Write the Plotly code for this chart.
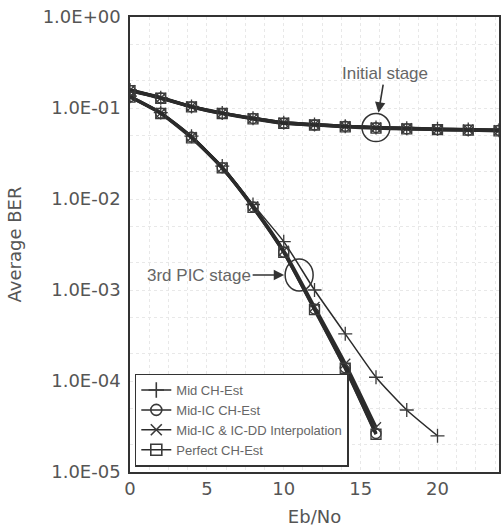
import numpy as np
import plotly.graph_objects as go

# ---------------- data ----------------
series_names = ["Mid CH-Est", "Mid-IC CH-Est", "Mid-IC & IC-DD Interpolation", "Perfect CH-Est"]

# Initial stage (all four overlap)
ebno_init = [0, 2, 4, 6, 8, 10, 12, 14, 16, 18, 20, 22, 24]
ber_init_mid = [0.158, 0.130, 0.104, 0.088, 0.077, 0.069, 0.066, 0.063, 0.061, 0.060, 0.059, 0.058, 0.057]
ber_init_midic = [0.156, 0.129, 0.103, 0.087, 0.077, 0.068, 0.065, 0.063, 0.061, 0.059, 0.058, 0.057, 0.057]
ber_init_ddi = [0.157, 0.129, 0.104, 0.088, 0.077, 0.069, 0.066, 0.063, 0.061, 0.060, 0.058, 0.058, 0.057]
ber_init_perf = [0.155, 0.128, 0.103, 0.087, 0.076, 0.068, 0.065, 0.062, 0.060, 0.059, 0.058, 0.057, 0.056]

# 3rd PIC stage
ebno_mid = [0, 2, 4, 6, 8, 10, 12, 14, 16, 18, 20]
ber_pic_mid = [0.135, 0.089, 0.049, 0.023, 0.0087, 0.0034, 0.00100, 0.00033, 0.000110, 0.000048, 0.000025]

ebno_pic = [0, 2, 4, 6, 8, 10, 12, 14, 16]
ber_pic_midic = [0.133, 0.088, 0.048, 0.022, 0.0082, 0.0026, 0.00062, 0.000140, 0.0000265]
ber_pic_ddi = [0.134, 0.088, 0.048, 0.022, 0.0083, 0.0027, 0.00065, 0.000155, 0.000031]
ber_pic_perf = [0.132, 0.087, 0.047, 0.022, 0.0081, 0.0026, 0.00061, 0.000138, 0.0000260]

x_tickvals = [0, 5, 10, 15, 20]
y_tickvals = [1e0, 1e-1, 1e-2, 1e-3, 1e-4, 1e-5]
y_ticktext = ["1.0E+00", "1.0E-01", "1.0E-02", "1.0E-03", "1.0E-04", "1.0E-05"]

# annotation anchors (data coordinates)
init_mark = (16, 0.061)
pic_mark = (11, 0.00146)

# ---------------- style ----------------
LINE = "#2b2b2b"
MK = "#3a3a3a"
symbols = ["cross-thin-open", "circle-open", "x-thin-open", "square-open"]
FONT = "Liberation Sans, Arial, sans-serif"
TFONT = "DejaVu Sans, sans-serif"

X_RANGE = [0, 24]
Y_RANGE = [-5, 0]
PLOT_W = 369.0   # plot-area pixels
PLOT_H = 455.0

fig = go.Figure()

init_sets = [ber_init_mid, ber_init_midic, ber_init_ddi, ber_init_perf]
pic_sets = [(ebno_mid, ber_pic_mid), (ebno_pic, ber_pic_midic), (ebno_pic, ber_pic_ddi), (ebno_pic, ber_pic_perf)]

for i, name in enumerate(series_names):
    mk = dict(symbol=symbols[i], size=10, color=MK, line=dict(color=MK, width=1.3))
    fig.add_trace(go.Scatter(
        x=ebno_init, y=init_sets[i], mode="lines+markers", name=name,
        legendgroup=name, showlegend=False,
        line=dict(color=LINE, width=3.2, shape="spline", smoothing=0.6),
        marker=mk))
    xs, ys = pic_sets[i]
    fig.add_trace(go.Scatter(
        x=xs, y=ys, mode="lines+markers", name=name,
        legendgroup=name, showlegend=False,
        line=dict(color=LINE, width=1.5 if i == 0 else 3.2, shape="spline", smoothing=0.6),
        marker=mk))

# legend entries (thin lines as in the reference legend)
for i, name in enumerate(series_names):
    fig.add_trace(go.Scatter(
        x=[None], y=[None], mode="lines+markers", name=name, legendgroup=name,
        line=dict(color=LINE, width=1.5),
        marker=dict(symbol=symbols[i], size=11, color=MK, line=dict(color=MK, width=1.6))))

# circles around the marked points (radius given in pixels, converted to data units)
px_x = (X_RANGE[1] - X_RANGE[0]) / PLOT_W
px_y = (Y_RANGE[1] - Y_RANGE[0]) / PLOT_H
for (cx, cy), (rx, ry) in [(init_mark, (14, 14)), (pic_mark, (14, 16))]:
    fig.add_shape(type="circle", xref="x", yref="y",
                  x0=cx - rx * px_x, x1=cx + rx * px_x,
                  y0=cy * 10 ** (-ry * px_y), y1=cy * 10 ** (ry * px_y),
                  line=dict(color="#333333", width=1.5))

fig.add_annotation(x=init_mark[0], y=np.log10(init_mark[1]), xref="x", yref="y",
                   text="Initial stage", showarrow=True, ax=9, ay=-54,
                   arrowhead=2, arrowsize=1.3, arrowwidth=1.6, arrowcolor="#333333",
                   standoff=15, font=dict(family=FONT, size=17, color="#666666"))
fig.add_annotation(x=pic_mark[0], y=np.log10(pic_mark[1]), xref="x", yref="y",
                   text="3rd PIC stage", showarrow=True, ax=-100, ay=0,
                   arrowhead=2, arrowsize=1.3, arrowwidth=1.6, arrowcolor="#333333",
                   standoff=15, font=dict(family=FONT, size=17, color="#666666"))

grid = "#e8e8e8"
fig.update_xaxes(range=X_RANGE, tickvals=x_tickvals, showline=True, mirror=True,
                 linecolor="#333333", linewidth=1.5, ticks="",
                 showgrid=True, gridcolor=grid, griddash="dot", gridwidth=1,
                 minor=dict(dtick=1.25, showgrid=True, gridcolor=grid, griddash="dot", gridwidth=1),
                 zeroline=False, ticklabeloverflow="allow",
                 tickfont=dict(family=TFONT, size=18, color="#555555"),
                 title=dict(text="Eb/No", font=dict(family=TFONT, size=18, color="#555555"), standoff=12))
fig.update_yaxes(type="log", range=Y_RANGE, tickvals=y_tickvals, ticktext=y_ticktext,
                 showline=True, mirror=True, linecolor="#333333", linewidth=1.5,
                 ticks="", ticklabelstandoff=4, ticklabeloverflow="allow",
                 showgrid=True, gridcolor=grid, griddash="dot", gridwidth=1,
                 minor=dict(showgrid=True, gridcolor=grid, griddash="dot", gridwidth=1),
                 tickfont=dict(family=TFONT, size=18, color="#555555"),
                 title=dict(text="Average BER", font=dict(family=TFONT, size=18, color="#555555"), standoff=16))

fig.update_layout(
    width=501, height=529,
    margin=dict(l=130, r=2, t=17, b=57, autoexpand=False),
    plot_bgcolor="white", paper_bgcolor="white",
    legend=dict(x=0.013, y=0.012, xanchor="left", yanchor="bottom",
                bgcolor="white", bordercolor="#333333", borderwidth=1.5,
                font=dict(family=FONT, size=13, color="#666666"),
                itemwidth=30, tracegroupgap=0),
    font=dict(family=FONT),
)

# remove the default page margin so the figure sits at the window's top-left corner
fig.write_html("out.html",
               config={"displayModeBar": False},
               post_script="document.body.style.margin='0';document.body.style.overflow='hidden';")
